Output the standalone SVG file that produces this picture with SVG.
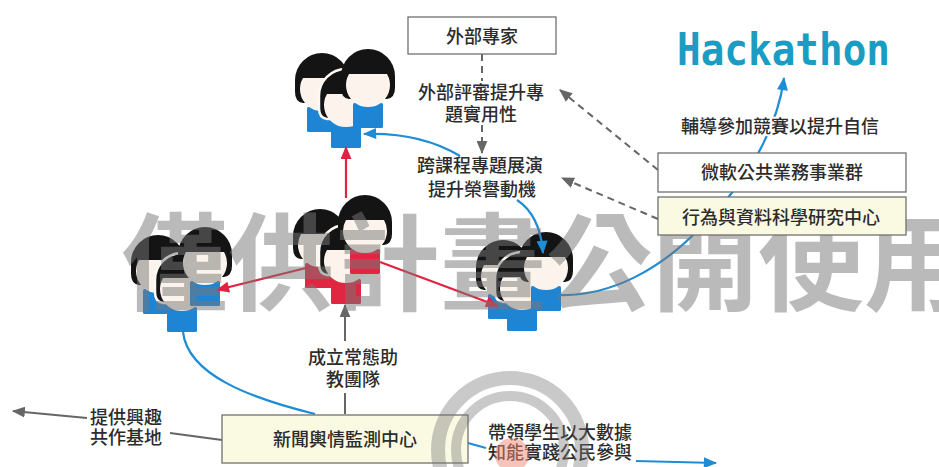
<svg xmlns="http://www.w3.org/2000/svg" width="939" height="467" viewBox="0 0 939 467">
  <defs>
    <style>
      text { font-family: "Noto Sans CJK TC", "Noto Sans CJK SC", sans-serif; fill: #2c2c2c; font-size: 18px; font-weight: 500; }
      .c { text-anchor: middle; }
      .halo { stroke: #fff; stroke-width: 4px; paint-order: stroke; stroke-linejoin: round; }
      .box { fill: #fff; stroke: #707070; stroke-width: 1.3; }
      .note { fill: #fafae3; }
      .gray { fill: none; stroke: #666; stroke-width: 2; }
      .dash { stroke-dasharray: 7 5; }
      .red { fill: none; stroke: #e0233f; stroke-width: 2.2; }
      .blue { fill: none; stroke: #1f8cd6; stroke-width: 2.2; }
      .hack { font-family: "DejaVu Sans Mono", monospace; font-size: 44px; font-weight: 700; fill: #1b9cc3; }
      .wm { font-family: "Noto Sans CJK TC", sans-serif; font-weight: 700; font-size: 106px; fill: #787878; opacity: .5; }
      .ring { fill: none; stroke: #787878; opacity: .4; }
      .hair { fill: #141414; }
      .face { fill: #fcf4ec; }
    </style>
    <marker id="ah-gray" viewBox="0 0 12 10" refX="11" refY="5" markerWidth="13" markerHeight="11" markerUnits="userSpaceOnUse" orient="auto">
      <path d="M0,0 L12,5 L0,10 Z" fill="#666"/>
    </marker>
    <marker id="ah-red" viewBox="0 0 12 10" refX="11" refY="5" markerWidth="14" markerHeight="11" markerUnits="userSpaceOnUse" orient="auto">
      <path d="M0,0 L12,5 L0,10 Z" fill="#e0233f"/>
    </marker>
    <marker id="ah-blue" viewBox="0 0 12 10" refX="11" refY="5" markerWidth="14" markerHeight="11" markerUnits="userSpaceOnUse" orient="auto">
      <path d="M0,0 L12,5 L0,10 Z" fill="#1f8cd6"/>
    </marker>
    <!-- one figure, origin at the centre of the hair; body takes currentColor -->
    <g id="person">
      <rect x="-15" y="27" width="30" height="25" rx="1.5" fill="currentColor"/>
      <path class="hair" d="M-27,0 A27,27 0 0,1 27,0 L27,12 Q27,22 19,23 L-19,23 Q-27,22 -27,12 Z"/>
      <path class="face" d="M-19,-2 L19,-2 A22,22 0 1,1 -19,-2 Z"/>
    </g>
    <!-- middle figure, set off from the one behind by a light rim -->
    <g id="person-mid">
      <rect x="-15" y="27" width="30" height="25" rx="1.5" fill="currentColor"/>
      <path class="hair" d="M-27,0 A27,27 0 0,1 27,0 L27,12 Q27,22 19,23 L-19,23 Q-27,22 -27,12 Z" stroke="#fcf8f3" stroke-width="2.5"/>
      <path class="face" d="M-19,-2 L19,-2 A22,22 0 1,1 -19,-2 Z"/>
    </g>
  </defs>

  <rect width="939" height="467" fill="#fff"/>

  <!-- teams: back-left, middle, back-right -->
  <g id="team-top" color="#1e84d4">
    <use href="#person" x="322" y="80"/>
    <use href="#person-mid" x="346" y="96"/>
    <use href="#person" x="368" y="76"/>
  </g>
  <g id="team-core" color="#df2741">
    <use href="#person" x="320" y="236"/>
    <use href="#person-mid" x="346" y="252"/>
    <use href="#person" x="365" y="222"/>
  </g>
  <g id="team-left" color="#1e84d4">
    <use href="#person" x="158" y="262"/>
    <use href="#person-mid" x="182" y="280"/>
    <use href="#person" x="205" y="254"/>
  </g>
  <g id="team-right" color="#1e84d4">
    <use href="#person" x="503" y="267"/>
    <use href="#person-mid" x="522" y="279"/>
    <use href="#person" x="546" y="259"/>
  </g>

  <!-- connectors -->
  <g id="connectors">
    <!-- expert review -->
    <path class="gray dash" d="M482,54 L482,81"/>
    <path class="gray dash" d="M482,125 L482,153" marker-end="url(#ah-gray)"/>
    <path class="gray dash" d="M658,170 L560,90" marker-end="url(#ah-gray)"/>
    <path class="gray dash" d="M658,219 L562,178" marker-end="url(#ah-gray)"/>
    <!-- core team outwards -->
    <path class="red" d="M346,198 L346,147" marker-end="url(#ah-red)"/>
    <path class="red" d="M306,268 L217,290" marker-end="url(#ah-red)"/>
    <path class="red" d="M380,262 L498,306" marker-end="url(#ah-red)"/>
    <!-- blue flows -->
    <path class="blue" d="M460,156 Q420,132 364,134" marker-end="url(#ah-blue)"/>
    <path class="blue" d="M517,200 Q540,215 543,253" marker-end="url(#ah-blue)"/>
    <path class="blue" d="M561,295 C610,296 660,270 700,228 C750,180 778,125 784,78" marker-end="url(#ah-blue)"/>
    <path class="blue" d="M315,414 C250,398 188,375 183,332"/>
    <path class="blue" d="M468,443 L486,448"/>
    <path class="blue" d="M636,461 L716,463" marker-end="url(#ah-blue)"/>
    <!-- monitoring centre -->
    <path class="gray" d="M345,414 L345,393"/>
    <path class="gray" d="M345,341 L345,305" marker-end="url(#ah-gray)"/>
    <path class="gray" d="M222,440 L170,433"/>
    <path class="gray" d="M87,418 L13,411" marker-end="url(#ah-gray)"/>
  </g>

  <!-- overprinted usage notice -->
  <g id="usage-notice">
    <text class="wm" x="122" y="302">僅供計畫公開使用</text>
  </g>

  <!-- boxes -->
  <g id="experts">
    <rect class="box" x="408" y="17" width="148" height="37"/>
    <text class="c" x="482" y="43">外部專家</text>
  </g>
  <g id="microsoft">
    <rect class="box" x="658" y="153" width="248" height="39"/>
    <text class="c" x="782" y="179">微軟公共業務事業群</text>
  </g>
  <g id="research-centre">
    <rect class="box note" x="658" y="197" width="248" height="38"/>
    <text class="c" x="781" y="224">行為與資料科學研究中心</text>
  </g>
  <g id="monitoring-centre">
    <rect class="box note" x="222" y="415" width="246" height="48"/>
    <text class="c" x="345" y="446">新聞輿情監測中心</text>
  </g>
  <g id="hackathon">
    <text class="hack" x="677" y="65" textLength="213" lengthAdjust="spacingAndGlyphs">Hackathon</text>
  </g>

  <!-- connector labels -->
  <g id="labels">
    <text class="c" x="481" y="99">外部評審提升專</text>
    <text class="c" x="481" y="121">題實用性</text>
    <text class="c" x="480" y="172">跨課程專題展演</text>
    <text class="c" x="482" y="196">提升榮譽動機</text>
    <text class="c halo" x="780" y="133">輔導參加競賽以提升自信</text>
    <text class="c" x="353" y="364">成立常態助</text>
    <text class="c" x="353" y="386">教團隊</text>
    <text x="90" y="424">提供興趣</text>
    <text x="90" y="444">共作基地</text>
    <text x="488" y="439">帶領學生以大數據</text>
    <text x="488" y="459">知能實踐公民參與</text>
  </g>

  <!-- round seal printed over the lower edge -->
  <g id="seal">
    <circle class="ring" cx="510" cy="450" r="72" stroke-width="14"/>
    <circle class="ring" cx="510" cy="450" r="54" stroke-width="10"/>
    <circle cx="512" cy="455" r="17" fill="#f08a78" opacity=".5"/>
  </g>
</svg>
